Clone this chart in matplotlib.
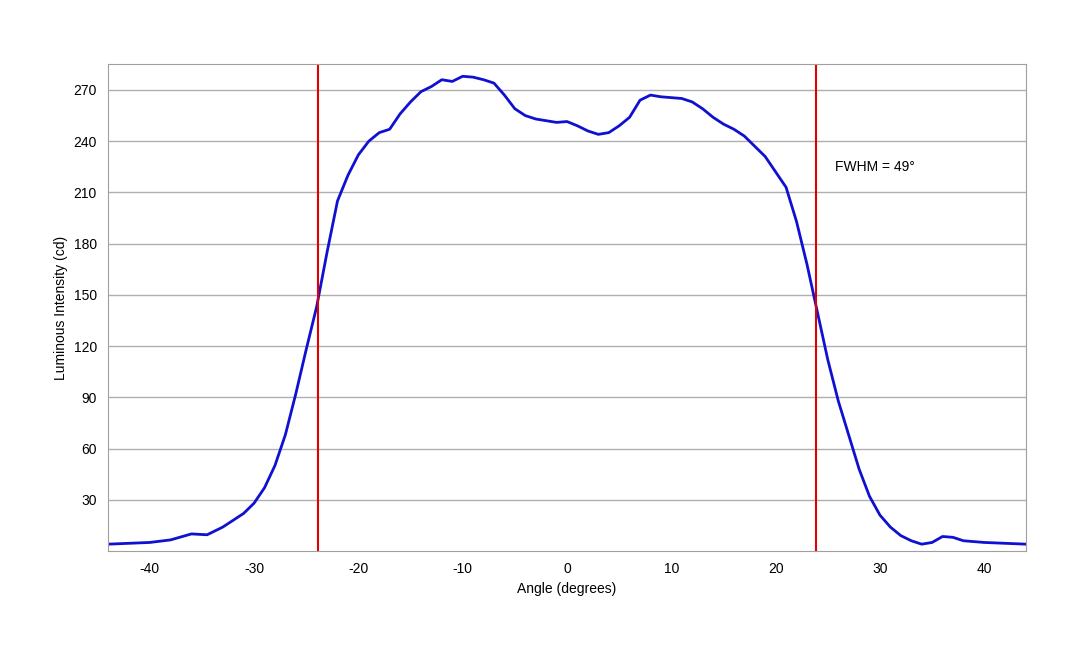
import matplotlib
matplotlib.use("Agg")
import matplotlib.pyplot as plt
plt.rcParams['font.family'] = ['Liberation Sans', 'DejaVu Sans']
plt.rcParams['axes.unicode_minus'] = False

angles = [-44,-40,-38,-36,-34.5,-33,-31,-30,-29,-28,-27,-26,-25,-24,-23,-22,-21,-20,-19,-18,-17,-16,-15,-14,-13,-12,-11,-10,-9,-8,-7,-6,-5,-4,-3,-2,-1,0,1,2,3,4,5,6,7,8,9,10,11,12,13,14,15,16,17,18,19,20,21,22,23,24,25,26,27,28,29,30,31,32,33,34,35,36,37,38,40,44]
intensity = [4,5,6.5,10,9.5,14,22,28,37,50,68,92,118,143,175,205,220,232,240,245,247,256,263,269,272,276,275,278,277.5,276,274,267,259,255,253,252,251,251.5,249,246,244,245,249,254,264,267,266,265.5,265,263,259,254,250,247,243,237,231,222,213,193,168,140,112,88,68,48,32,21,14,9,6,4,5,8.5,8,6,5,4]
fwhm_lines = [-23.9, 23.9]
yticks = [30,60,90,120,150,180,210,240,270]
xticks = [-40,-30,-20,-10,0,10,20,30,40]

fig = plt.figure(figsize=(10.8,6.48), dpi=100)
ax = fig.add_axes([0.1,0.1497,0.85,0.751])
ax.plot(angles, intensity, color="#1010d0", lw=2)
for x in fwhm_lines:
    ax.axvline(x, color="#e00000", lw=1.5)
ax.set_xlim(-44,44); ax.set_ylim(0,285)
ax.set_yticks(yticks); ax.set_xticks(xticks)
ax.yaxis.grid(True, color="#b0b0b0", lw=1)
ax.set_axisbelow(True)
for s in ax.spines.values(): s.set_color("#a0a0a0")
ax.tick_params(length=0, labelsize=10, pad=8)
ax.set_xlabel("Angle (degrees)", fontsize=10)
ax.set_ylabel("Luminous Intensity (cd)", fontsize=10)
ax.text(25.7, 224.8, "FWHM = 49°", fontsize=10, va="center")
fig.savefig("out.png", dpi=100)
